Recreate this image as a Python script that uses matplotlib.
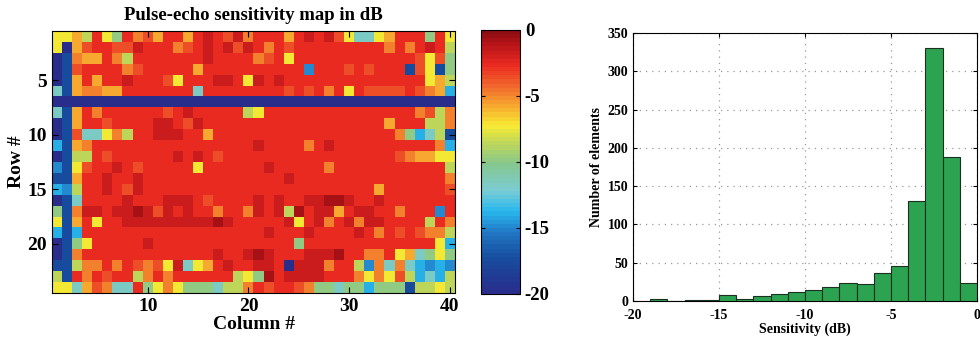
import matplotlib
matplotlib.use('Agg')
import matplotlib.pyplot as plt
import numpy as np
from matplotlib.colors import LinearSegmentedColormap

# sensitivity map, one letter per element (rows 1..24, columns 1..40)
map_rows = [
    "y y Y g r y G r O o Y r r Y r R r o R O r r r Y r R r R o y c c y Y r r r G r y",
    "y N Y o r r o o R r r r O o r R r R o R r O r o r r r r r r r r r O r O r R r g",
    "N B O Y Y r O g r r r r r r r R r r r r O o r y r r r r r r r r r r r r o y o G",
    "N B o r r r r O o r r r r r Y r r r r r r r r r r b r r r o r o r r r B o y B G",
    "N B Y r Y r r R r r r o y r r r R R r y R r R r r r r r r r r r r r r r r y Y g",
    "c B Y O O Y Y r r r r r r r c r r r r r r r r o r o r O r y r o o o o r o O Y C",
    "N N N N N N N N N N N N N N N N N N N N N N N N N N N N N N N N N N N N N N N N",
    "c B Y r O r r r r r r o r R r r r r r g y r r r r r r r r r r r r r r r O o g O",
    "N B Y r r o r r r r R R r o R r r r r r r r r r r r r r r r r r r Y r r r g g O",
    "N B o c c y O g r r R R R r r Y r r r r r r r r r r r r r r r r r r O G C c g B",
    "C B Y O r r r r r r r r r r r r r r r r R r r r r O r R r r r r r r r r r r O C",
    "N B g g r o r r r r r r R r R r o r r r r r r r r r r r r r r r r r o O Y Y y y",
    "b B y o r r R r o r r r r r y r r r r r r R r r r r r O r r r r r r r r r r r g",
    "B B Y r r R r r R r r r r r r r r r r r r r r R r r r r r r r r r r r r r r r O",
    "C b g r r R r o R r r r r r r r r r r r r r r r r r r r r r r r Y r r r r r r o",
    "N B c r r r r R r r r R R R r o r r r r R r R r r R R D D R r r R r r r r r r r",
    "G B O R R r R R D R o R r R r r O r r O R r R g D r R R Y r R R r r O r r r b r",
    "y B Y r y r r R R R R R R R R R D R r r r r r R y r R O r R O R R r r r r g r O",
    "C B C r r r r r r r r r r r r r r r r r r R r r r R r r r r R r O r o r o O O g",
    "N B G y r r r r r R r r r r r r r r r r r r r r G r r r r r r r r r r r r r y C",
    "N B O r r r r r r r r r r r r r R r r R D R r r r R R R D r r O O r y Y c G y G",
    "B B g O O r O r o O o y R c y Y r R r r R R r N R R R O r r g b O c O c C b C b",
    "g B r O r o r r g O r O r r r r r r g y G D r R R R R r r r O y O y o g C c C g",
    "y y c Y o O c c r G y O y G G G c g g O r o r r o O G G c G G C G G G B g g y g",
]
level_db = {'D': -0.8, 'R': -1.7, 'r': -2.8, 'o': -3.7, 'O': -4.8, 'Y': -5.9,
            'y': -7.2, 'g': -8.5, 'G': -10.0, 'c': -11.8, 'C': -13.8,
            'b': -15.0, 'B': -17.3, 'N': -19.8}

# histogram of sensitivities
bin_left = [-19, -18, -17, -16, -15, -14, -13, -12, -11, -10, -9, -8, -7, -6, -5, -4, -3, -2, -1]
bin_count = [2, 0, 1, 1, 8, 3, 6, 9, 12, 14, 18, 24, 22, 37, 46, 131, 330, 188, 23]

sens = np.array([[level_db[ch] for ch in row.split()] for row in map_rows])

# washed-out jet as in the printed figure
stops = [(0.00, (0.16, 0.18, 0.55)), (0.13, (0.09, 0.30, 0.62)),
         (0.23, (0.13, 0.47, 0.77)), (0.31, (0.16, 0.72, 0.93)),
         (0.39, (0.48, 0.80, 0.83)), (0.49, (0.52, 0.78, 0.56)),
         (0.57, (0.74, 0.84, 0.36)), (0.64, (0.97, 0.92, 0.20)),
         (0.72, (0.97, 0.64, 0.18)), (0.80, (0.94, 0.38, 0.17)),
         (0.87, (0.92, 0.17, 0.13)), (0.95, (0.72, 0.08, 0.10)),
         (1.00, (0.55, 0.05, 0.07))]
cmap = LinearSegmentedColormap.from_list('jetish', stops, N=64)

plt.rcParams['font.family'] = 'Liberation Serif'
plt.rcParams['font.weight'] = 'bold'
plt.rcParams['axes.unicode_minus'] = False

fig = plt.figure(figsize=(9.8, 3.37), dpi=100)

ax = fig.add_axes([0.0531, 0.1306, 0.4112, 0.7774])
im = ax.imshow(sens, cmap=cmap, vmin=-20, vmax=0, aspect='auto',
               interpolation='nearest', extent=(0.5, 40.5, 24.5, 0.5))
ax.set_xticks([10, 20, 30, 40])
ax.set_yticks([5, 10, 15, 20])
ax.tick_params(direction='in', top=True, right=True, labelsize=14, length=4)
ax.set_title('Pulse-echo sensitivity map in dB', fontsize=13.5, fontweight='bold', pad=8)
ax.set_xlabel('Column #', fontsize=14, fontweight='bold', labelpad=1)
ax.set_ylabel('Row #', fontsize=14, fontweight='bold', labelpad=2)

cax = fig.add_axes([0.4908, 0.1276, 0.0398, 0.7834])
cb = fig.colorbar(im, cax=cax, ticks=[0, -5, -10, -15, -20])
cb.ax.tick_params(direction='in', left=True, right=True, labelsize=13.5, length=3)
cb.outline.set_linewidth(0.8)

hx = fig.add_axes([0.6459, 0.1068, 0.3510, 0.7953])
hx.bar(bin_left, bin_count, width=1, align='edge', color='#2ca350',
       edgecolor='#1a3020', linewidth=0.8, zorder=3)
hx.set_xlim(-20, 0)
hx.set_ylim(0, 350)
hx.set_xticks([-20, -15, -10, -5, 0])
hx.set_yticks(range(0, 351, 50))
hx.grid(True, linestyle=(0, (1, 4)), color='#999999', linewidth=0.9, zorder=0)
hx.tick_params(direction='in', top=True, right=True, labelsize=10, length=3)
hx.tick_params(axis='x', pad=6)
hx.set_xlabel('Sensitivity (dB)', fontsize=10, fontweight='bold', labelpad=0)
hx.set_ylabel('Number of elements', fontsize=10, fontweight='bold', labelpad=3)

plt.savefig('out.png', dpi=100)
